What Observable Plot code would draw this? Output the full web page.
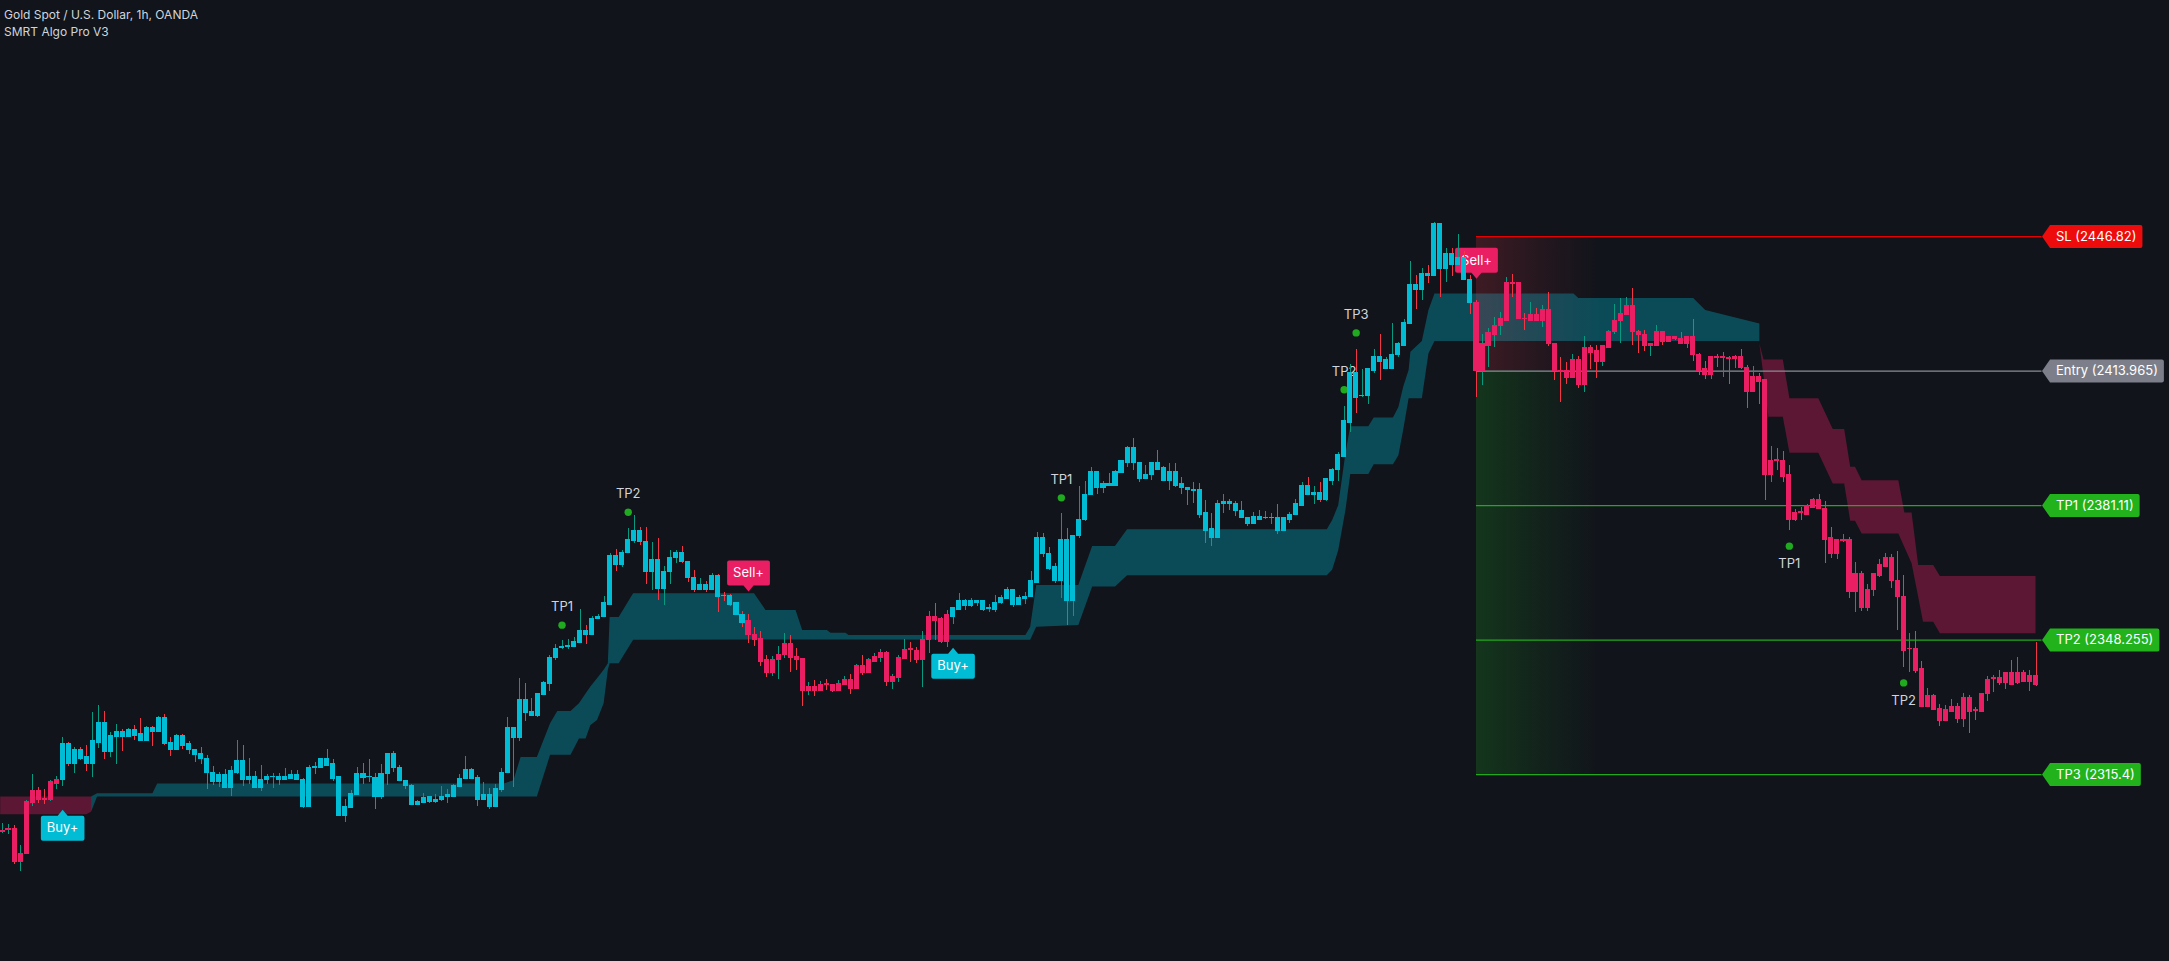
<!DOCTYPE html>
<html>
<head>
<meta charset="utf-8">
<script src="https://cdn.jsdelivr.net/npm/d3@7"></script>
<script src="https://cdn.jsdelivr.net/npm/@observablehq/plot@0.6"></script>
<style>
  html, body { margin: 0; padding: 0; background: #11141b; }
  #wrap { position: relative; width: 2169px; height: 961px; overflow: hidden; }
  #title { position: absolute; left: 4px; top: 6px; font-family: Inter, "Noto Sans", sans-serif;
           font-size: 12px; line-height: 17px; color: #d1d4dc; }
</style>
</head>
<body>
<div id="wrap">
  <div id="chart"></div>
  <div id="title"><div>Gold Spot / U.S. Dollar, 1h, OANDA</div><div>SMRT Algo Pro V3</div></div>
</div>
<script>
// XAUUSD hourly candles
const open = [
  2301.3, 2301.8, 2302.0, 2294.0, 2296.0, 2308.4, 2311.3, 2309.4, 2309.1, 2313.2,
  2314.0, 2322.8, 2318.1, 2321.3, 2319.6, 2318.1, 2323.2, 2327.9, 2321.0, 2324.7,
  2325.7, 2324.5, 2326.4, 2325.2, 2323.7, 2326.9, 2325.9, 2329.3, 2323.0, 2321.3,
  2324.9, 2322.8, 2321.5, 2320.5, 2319.3, 2315.9, 2313.5, 2315.4, 2312.2, 2315.9,
  2318.6, 2314.0, 2314.9, 2312.2, 2314.0, 2314.8, 2314.9, 2314.0, 2314.4, 2315.4,
  2314.2, 2307.6, 2317.2, 2316.9, 2319.3, 2317.9, 2314.7, 2305.4, 2307.2, 2310.5,
  2315.6, 2314.8, 2314.6, 2309.9, 2315.6, 2320.5, 2317.0, 2313.9, 2312.7, 2307.9,
  2308.4, 2309.9, 2308.7, 2309.1, 2309.9, 2310.0, 2312.3, 2314.3, 2316.6, 2314.5,
  2309.1, 2310.5, 2307.4, 2311.6, 2315.7, 2326.9, 2324.3, 2333.5, 2330.6, 2329.6,
  2334.8, 2337.5, 2343.8, 2346.4, 2346.5, 2346.5, 2347.5, 2350.4, 2349.4, 2353.4,
  2353.8, 2356.9, 2368.7, 2366.5, 2369.5, 2372.4, 2374.8, 2372.3, 2364.8, 2367.7,
  2360.7, 2364.8, 2368.3, 2369.6, 2367.4, 2363.5, 2360.4, 2361.6, 2360.4, 2364.0,
  2359.1, 2359.1, 2357.2, 2354.5, 2352.8, 2349.6, 2348.6, 2343.3, 2340.1, 2343.3,
  2344.5, 2347.2, 2344.2, 2343.7, 2335.7, 2336.9, 2335.7, 2337.5, 2337.4, 2335.9,
  2337.4, 2338.4, 2336.2, 2342.0, 2340.3, 2343.0, 2344.0, 2345.0, 2338.1, 2339.1,
  2343.7, 2346.0, 2345.7, 2343.3, 2348.2, 2354.0, 2353.3, 2347.7, 2354.0, 2355.7,
  2357.7, 2356.5, 2357.9, 2357.7, 2355.8, 2355.7, 2357.2, 2358.4, 2360.4, 2356.9,
  2358.4, 2358.7, 2362.3, 2373.3, 2369.4, 2366.0, 2362.6, 2372.6, 2357.9, 2373.6,
  2377.5, 2383.6, 2389.2, 2385.3, 2386.5, 2386.0, 2389.0, 2391.6, 2395.1, 2391.6,
  2387.5, 2388.5, 2391.4, 2390.2, 2387.0, 2389.4, 2386.3, 2385.5, 2385.0, 2384.8,
  2379.2, 2375.3, 2373.1, 2381.4, 2382.1, 2381.6, 2379.9, 2378.2, 2376.7, 2378.4,
  2378.0, 2378.0, 2378.2, 2375.0, 2377.7, 2378.7, 2381.1, 2386.0, 2383.6, 2384.3,
  2382.4, 2387.2, 2389.7, 2393.1, 2401.4, 2413.6, 2407.8, 2407.8, 2414.1, 2417.5,
  2414.6, 2414.6, 2417.8, 2420.2, 2425.4, 2434.9, 2433.9, 2437.8, 2437.3, 2449.8,
  2438.8, 2442.5, 2440.0, 2441.7, 2436.3, 2430.7, 2413.9, 2420.2, 2422.9, 2424.9,
  2426.3, 2435.5, 2435.4, 2426.8, 2426.3, 2427.6, 2426.1, 2429.0, 2420.7, 2414.0,
  2413.9, 2412.4, 2416.6, 2410.5, 2419.5, 2418.8, 2416.3, 2419.7, 2423.4, 2426.1,
  2427.6, 2429.8, 2423.6, 2422.9, 2420.0, 2420.2, 2423.4, 2421.0, 2422.2, 2421.9,
  2420.5, 2422.2, 2418.0, 2414.4, 2413.0, 2417.4, 2417.2, 2417.2, 2416.9, 2417.5,
  2414.8, 2408.8, 2412.6, 2411.7, 2388.5, 2392.2, 2392.1, 2388.5, 2377.7, 2379.5,
  2378.9, 2380.6, 2382.4, 2380.4, 2373.1, 2369.4, 2372.5, 2372.8, 2359.9, 2364.3,
  2356.0, 2360.4, 2364.0, 2366.2, 2368.2, 2362.8, 2358.9, 2346.0, 2346.2, 2341.1,
  2332.0, 2334.7, 2331.5, 2328.4, 2330.8, 2332.0, 2328.9, 2334.0, 2331.1, 2330.8,
  2335.0, 2338.8, 2338.9, 2337.7, 2340.3, 2337.7, 2340.3, 2338.1, 2339.4
];
const high = [
  2303.4, 2303.2, 2303.0, 2298.1, 2309.1, 2315.4, 2312.2, 2311.8, 2314.0, 2314.9,
  2324.5, 2323.2, 2322.0, 2322.0, 2322.5, 2330.6, 2332.3, 2330.8, 2325.7, 2327.6,
  2326.4, 2326.7, 2327.4, 2329.1, 2327.1, 2327.1, 2329.6, 2330.1, 2324.5, 2325.2,
  2325.2, 2323.5, 2321.5, 2322.0, 2320.1, 2317.4, 2315.9, 2316.6, 2317.4, 2323.7,
  2322.5, 2319.3, 2316.2, 2317.6, 2315.4, 2315.7, 2315.7, 2316.9, 2316.4, 2316.4,
  2314.4, 2317.6, 2318.4, 2319.3, 2321.5, 2319.1, 2314.9, 2309.3, 2311.5, 2317.2,
  2318.0, 2319.2, 2315.6, 2317.8, 2320.5, 2321.0, 2317.5, 2313.9, 2312.9, 2309.1,
  2310.9, 2310.0, 2310.5, 2312.5, 2311.7, 2313.1, 2315.3, 2319.8, 2317.0, 2315.2,
  2313.5, 2312.0, 2312.9, 2316.9, 2329.3, 2326.9, 2338.9, 2337.6, 2334.0, 2335.2,
  2338.1, 2344.5, 2347.2, 2348.2, 2348.4, 2349.0, 2355.7, 2351.8, 2354.0, 2354.5,
  2358.9, 2369.4, 2370.4, 2370.1, 2375.5, 2378.7, 2375.8, 2375.8, 2372.1, 2373.1,
  2366.3, 2370.1, 2370.1, 2371.1, 2367.4, 2365.3, 2363.2, 2362.6, 2364.5, 2364.3,
  2360.0, 2359.4, 2357.2, 2355.2, 2354.5, 2351.3, 2350.3, 2344.5, 2344.2, 2346.7,
  2349.9, 2349.4, 2346.2, 2343.7, 2337.9, 2338.4, 2338.1, 2338.6, 2337.4, 2338.4,
  2339.3, 2339.8, 2342.3, 2344.5, 2343.7, 2345.0, 2345.9, 2345.5, 2339.8, 2344.5,
  2348.4, 2347.7, 2346.4, 2350.3, 2355.2, 2357.2, 2353.8, 2355.5, 2356.0, 2359.6,
  2358.2, 2358.4, 2357.9, 2357.7, 2356.9, 2359.1, 2359.1, 2361.1, 2360.6, 2359.1,
  2359.9, 2365.0, 2374.5, 2374.3, 2370.9, 2367.0, 2379.2, 2375.5, 2373.8, 2385.8,
  2387.0, 2390.4, 2389.4, 2387.0, 2389.0, 2389.7, 2391.9, 2395.5, 2397.5, 2391.6,
  2390.9, 2391.4, 2394.6, 2390.7, 2391.4, 2391.4, 2388.0, 2385.5, 2386.8, 2386.5,
  2382.4, 2379.2, 2382.4, 2383.8, 2382.6, 2382.1, 2382.1, 2378.2, 2379.4, 2379.9,
  2379.7, 2379.2, 2381.4, 2378.0, 2379.4, 2382.6, 2386.8, 2388.0, 2385.8, 2386.8,
  2387.5, 2390.2, 2394.1, 2405.3, 2415.6, 2419.2, 2414.4, 2414.4, 2419.2, 2422.9,
  2417.3, 2425.6, 2421.0, 2426.6, 2440.7, 2437.3, 2439.0, 2439.8, 2450.3, 2450.0,
  2443.9, 2443.9, 2447.3, 2443.2, 2437.3, 2431.2, 2422.9, 2424.4, 2427.1, 2428.3,
  2436.8, 2437.6, 2435.4, 2428.0, 2430.7, 2429.3, 2430.0, 2433.2, 2420.7, 2417.3,
  2416.1, 2418.0, 2417.5, 2422.4, 2420.2, 2420.2, 2420.2, 2423.9, 2430.2, 2431.7,
  2432.0, 2434.2, 2423.9, 2423.9, 2420.7, 2425.1, 2423.6, 2422.4, 2422.4, 2423.4,
  2422.2, 2426.6, 2418.3, 2416.3, 2417.5, 2418.0, 2418.5, 2417.5, 2417.8, 2419.2,
  2415.3, 2415.1, 2413.4, 2411.7, 2395.5, 2395.1, 2394.3, 2390.9, 2380.2, 2380.6,
  2381.4, 2382.8, 2383.8, 2382.1, 2375.8, 2372.8, 2374.0, 2373.3, 2367.2, 2365.0,
  2361.8, 2364.3, 2367.9, 2369.4, 2369.2, 2369.9, 2364.0, 2349.9, 2350.4, 2343.0,
  2336.4, 2335.0, 2332.5, 2332.3, 2333.7, 2332.8, 2335.2, 2334.7, 2331.8, 2335.2,
  2339.4, 2339.6, 2340.8, 2340.3, 2343.3, 2344.0, 2340.8, 2340.8, 2347.7
];
const low = [
  2300.9, 2300.8, 2293.4, 2291.8, 2296.0, 2307.7, 2308.4, 2308.2, 2308.9, 2311.8,
  2312.5, 2317.4, 2315.7, 2318.8, 2316.2, 2314.7, 2321.8, 2319.1, 2319.6, 2317.9,
  2321.0, 2324.5, 2323.7, 2323.5, 2323.7, 2322.3, 2325.7, 2322.5, 2319.8, 2321.3,
  2321.5, 2320.3, 2318.4, 2317.9, 2311.8, 2312.7, 2312.2, 2312.2, 2310.0, 2315.4,
  2312.5, 2313.0, 2312.2, 2311.3, 2313.0, 2312.0, 2312.7, 2314.0, 2314.2, 2314.0,
  2307.1, 2307.4, 2315.4, 2316.9, 2317.6, 2313.7, 2305.4, 2303.7, 2307.0, 2310.5,
  2313.1, 2313.5, 2306.9, 2309.2, 2312.8, 2316.0, 2313.8, 2311.7, 2307.9, 2307.9,
  2308.4, 2308.4, 2308.4, 2308.9, 2308.3, 2309.7, 2312.3, 2314.3, 2314.3, 2307.7,
  2309.0, 2306.8, 2307.4, 2311.1, 2315.7, 2312.3, 2323.6, 2328.4, 2329.7, 2329.4,
  2334.8, 2335.8, 2343.3, 2346.0, 2346.0, 2346.4, 2347.5, 2347.3, 2349.4, 2353.4,
  2353.8, 2356.9, 2365.0, 2366.1, 2369.5, 2371.8, 2371.4, 2361.9, 2360.4, 2358.0,
  2356.8, 2361.9, 2367.0, 2367.0, 2362.4, 2359.9, 2360.4, 2359.9, 2360.4, 2355.1,
  2357.7, 2356.5, 2354.3, 2351.3, 2347.4, 2346.7, 2341.8, 2339.2, 2339.4, 2338.6,
  2343.8, 2340.3, 2340.8, 2332.0, 2334.7, 2334.5, 2335.7, 2335.9, 2335.4, 2335.9,
  2337.4, 2335.0, 2336.2, 2339.6, 2340.1, 2343.0, 2342.8, 2336.9, 2336.2, 2337.9,
  2343.7, 2342.8, 2342.5, 2336.7, 2345.0, 2348.2, 2347.4, 2346.4, 2352.1, 2355.7,
  2355.5, 2356.2, 2356.5, 2355.2, 2355.0, 2355.0, 2356.9, 2358.4, 2356.2, 2356.9,
  2356.9, 2358.7, 2362.3, 2368.4, 2365.3, 2362.1, 2358.4, 2351.8, 2354.0, 2373.1,
  2377.2, 2383.6, 2383.8, 2384.1, 2385.8, 2386.0, 2389.0, 2390.4, 2389.7, 2386.8,
  2387.5, 2387.2, 2389.9, 2387.0, 2384.8, 2385.5, 2383.8, 2381.1, 2381.6, 2378.0,
  2371.9, 2371.1, 2373.1, 2379.2, 2379.9, 2378.4, 2378.0, 2376.0, 2376.7, 2377.7,
  2377.7, 2376.5, 2374.1, 2374.8, 2376.7, 2378.7, 2380.9, 2383.6, 2381.4, 2381.9,
  2382.1, 2386.0, 2387.0, 2393.1, 2399.0, 2403.6, 2407.6, 2405.9, 2413.5, 2411.7,
  2414.6, 2414.6, 2417.3, 2420.2, 2425.4, 2429.0, 2431.2, 2435.4, 2437.3, 2432.0,
  2435.6, 2437.1, 2440.0, 2436.1, 2427.8, 2407.5, 2410.5, 2414.9, 2419.7, 2422.7,
  2426.3, 2432.0, 2426.6, 2423.9, 2426.3, 2426.1, 2424.6, 2420.0, 2411.7, 2406.3,
  2410.7, 2412.4, 2409.7, 2408.7, 2414.4, 2412.2, 2415.1, 2419.7, 2422.9, 2420.8,
  2427.6, 2420.2, 2418.3, 2418.8, 2417.5, 2420.2, 2420.2, 2421.0, 2421.4, 2420.5,
  2419.5, 2416.3, 2412.9, 2412.0, 2411.8, 2414.9, 2412.5, 2410.8, 2414.7, 2414.4,
  2404.9, 2408.8, 2405.9, 2382.4, 2386.8, 2389.7, 2386.8, 2375.0, 2377.2, 2377.5,
  2378.9, 2380.6, 2380.2, 2367.0, 2368.2, 2367.9, 2372.1, 2358.4, 2355.0, 2355.2,
  2355.2, 2358.9, 2363.5, 2366.2, 2360.9, 2350.6, 2341.6, 2340.3, 2340.1, 2332.0,
  2332.0, 2331.1, 2327.1, 2328.4, 2330.8, 2327.9, 2326.9, 2325.4, 2328.6, 2330.8,
  2333.3, 2335.5, 2337.2, 2336.2, 2337.4, 2337.4, 2338.1, 2335.7, 2336.9
];
const close = [
  2301.7, 2302.0, 2294.0, 2296.1, 2308.6, 2311.3, 2309.1, 2309.2, 2313.5, 2314.2,
  2322.8, 2318.1, 2321.3, 2319.3, 2318.1, 2323.5, 2327.9, 2321.0, 2324.9, 2325.7,
  2324.5, 2326.4, 2324.9, 2323.7, 2326.9, 2325.9, 2329.3, 2322.8, 2321.3, 2324.9,
  2322.5, 2321.3, 2320.3, 2319.1, 2315.7, 2313.5, 2315.4, 2312.2, 2316.2, 2318.6,
  2314.0, 2314.9, 2312.2, 2314.2, 2314.7, 2314.9, 2314.0, 2314.7, 2315.4, 2314.0,
  2307.6, 2317.1, 2317.1, 2319.3, 2317.6, 2314.4, 2305.4, 2307.4, 2310.7, 2315.6,
  2314.6, 2314.7, 2309.9, 2315.6, 2320.5, 2317.0, 2313.8, 2312.6, 2307.9, 2308.6,
  2309.7, 2308.7, 2309.2, 2310.0, 2310.4, 2312.5, 2314.4, 2316.6, 2314.3, 2309.1,
  2310.5, 2307.4, 2311.8, 2315.9, 2326.9, 2324.3, 2333.5, 2330.4, 2329.7, 2335.0,
  2337.7, 2344.0, 2346.2, 2346.6, 2346.8, 2347.7, 2350.4, 2349.4, 2353.5, 2354.0,
  2357.2, 2368.7, 2366.5, 2369.6, 2372.6, 2374.8, 2372.2, 2364.8, 2367.7, 2360.7,
  2365.0, 2368.4, 2369.6, 2367.3, 2363.4, 2360.4, 2361.6, 2360.4, 2364.0, 2358.9,
  2359.0, 2356.9, 2354.3, 2352.5, 2349.4, 2348.4, 2343.0, 2340.1, 2343.5, 2344.7,
  2347.2, 2344.0, 2343.5, 2335.7, 2336.9, 2335.7, 2337.4, 2337.3, 2335.9, 2337.6,
  2338.4, 2336.2, 2342.0, 2340.3, 2343.3, 2344.2, 2345.0, 2338.1, 2339.3, 2344.0,
  2345.9, 2345.9, 2343.3, 2348.4, 2354.0, 2353.0, 2347.7, 2354.3, 2356.0, 2357.7,
  2356.5, 2357.9, 2357.4, 2355.7, 2356.0, 2357.4, 2358.6, 2360.4, 2356.9, 2358.6,
  2358.9, 2362.6, 2373.3, 2369.2, 2365.7, 2362.6, 2372.6, 2357.9, 2373.8, 2377.7,
  2383.8, 2389.2, 2385.3, 2386.5, 2386.0, 2389.2, 2391.9, 2395.1, 2391.4, 2387.5,
  2388.7, 2391.4, 2389.9, 2387.0, 2389.4, 2386.0, 2385.3, 2384.8, 2384.6, 2378.9,
  2375.0, 2373.1, 2381.6, 2382.1, 2381.4, 2379.7, 2378.0, 2376.7, 2378.4, 2377.7,
  2378.2, 2378.2, 2375.0, 2378.0, 2378.9, 2381.4, 2386.0, 2383.6, 2384.3, 2382.4,
  2387.5, 2389.9, 2393.4, 2401.7, 2413.6, 2407.5, 2407.9, 2414.4, 2417.5, 2416.3,
  2416.6, 2418.0, 2420.5, 2425.6, 2434.9, 2433.9, 2437.8, 2437.3, 2449.8, 2438.8,
  2442.5, 2440.0, 2441.7, 2436.1, 2430.5, 2413.965, 2420.5, 2423.2, 2425.1, 2426.6,
  2435.4, 2435.3, 2426.6, 2426.6, 2427.6, 2426.1, 2429.0, 2420.5, 2413.9, 2413.8,
  2412.4, 2416.6, 2410.5, 2419.5, 2418.5, 2416.3, 2420.0, 2423.6, 2426.3, 2427.8,
  2429.8, 2423.4, 2422.7, 2420.0, 2420.5, 2423.4, 2421.0, 2422.2, 2421.7, 2420.5,
  2422.2, 2417.8, 2414.1, 2413.0, 2417.3, 2417.2, 2417.4, 2417.0, 2417.5, 2414.7,
  2408.8, 2412.6, 2411.4, 2388.5, 2392.1, 2392.0, 2388.2, 2377.7, 2379.4, 2379.3,
  2380.9, 2382.4, 2380.2, 2372.8, 2369.4, 2372.6, 2372.7, 2359.9, 2364.3, 2356.0,
  2360.6, 2364.3, 2366.5, 2368.2, 2362.6, 2358.7, 2345.7, 2346.2, 2340.8, 2332.0,
  2334.7, 2331.3, 2328.4, 2331.1, 2332.0, 2328.9, 2334.0, 2330.6, 2331.0, 2335.2,
  2338.6, 2339.0, 2337.7, 2340.3, 2337.4, 2340.3, 2338.1, 2339.4, 2337.4
];

// Trend signals: bar index, label, price at the label's pointer
const signalIndex = [10, 124, 158, 245];
const signalType = ["Buy+", "Sell+", "Buy+", "Sell+"];
const signalPrice = [2306.8, 2360.1, 2346.4, 2436.5];

// Take-profit hits: bar index, label, marker price, side
const tpIndex = [93, 104, 176, 223, 225, 297, 316];
const tpLabel = ["TP1", "TP2", "TP1", "TP2", "TP3", "TP1", "TP2"];
const tpPrice = [2351.9, 2379.5, 2383.0, 2409.4, 2423.3, 2371.2, 2337.8];
const tpSide = ["long", "long", "long", "long", "long", "short", "short"];

// Levels of the open short trade
const levelNames = ["SL", "Entry", "TP1", "TP2", "TP3"];
const levelValues = [2446.82, 2413.965, 2381.11, 2348.255, 2315.4];

// Trailing cloud: [bar index, lower edge, upper edge]
const cloudBearHead = [[-0.3, 2305.6, 2309.9], [14.0, 2305.6, 2309.9], [14.8, 2306.2, 2309.9]];
const cloudBull = [
  [14.8, 2306.2, 2309.9], [15.8, 2309.9, 2310.7], [25.0, 2309.9, 2310.7], [25.8, 2309.9, 2313.1],
  [83.4, 2309.9, 2313.1], [85.0, 2309.9, 2313.9], [86.2, 2309.9, 2319.6], [88.9, 2309.9, 2319.6],
  [91.1, 2320.1, 2327.8], [92.3, 2320.1, 2330.8], [94.5, 2320.1, 2330.8], [95.9, 2324.1, 2332.7],
  [97.0, 2324.1, 2335.1], [97.8, 2327.4, 2336.8], [98.9, 2328.6, 2338.8], [100.0, 2332.7, 2340.9],
  [100.7, 2340.9, 2342.5], [101.0, 2342.5, 2353.8], [102.5, 2342.5, 2353.8], [104.9, 2348.2, 2359.6],
  [125.0, 2348.3, 2359.6], [126.9, 2348.3, 2355.5], [131.9, 2348.3, 2355.5], [133.0, 2348.3, 2350.6],
  [137.1, 2348.3, 2350.6], [137.7, 2348.3, 2349.9], [140.2, 2348.3, 2349.9], [140.7, 2348.3, 2349.4],
  [170.1, 2348.2, 2349.4], [170.9, 2348.2, 2351.4], [171.9, 2351.4, 2361.6], [178.9, 2351.8, 2361.6],
  [181.2, 2361.2, 2371.1], [185.0, 2361.2, 2371.1], [187.0, 2364.0, 2375.2], [220.2, 2364.0, 2375.2],
  [221.1, 2365.4, 2377.5], [222.1, 2370.1, 2381.1], [223.3, 2379.9, 2393.8], [224.1, 2388.7, 2400.4],
  [227.1, 2388.7, 2400.4], [228.0, 2391.1, 2402.5], [231.2, 2391.1, 2402.5], [232.1, 2393.3, 2405.1],
  [232.9, 2399.5, 2410.0], [233.8, 2407.2, 2414.1], [234.1, 2407.2, 2418.6], [236.0, 2407.2, 2421.2],
  [237.1, 2418.2, 2428.8], [238.1, 2421.2, 2432.8], [261.2, 2421.2, 2432.8], [262.0, 2421.2, 2431.7],
  [281.1, 2421.2, 2431.7], [283.1, 2421.2, 2428.8], [292.1, 2421.2, 2425.5]
];
const cloudBearTail = [
  [292.1, 2420.6, 2420.6], [292.8, 2412.5, 2416.7], [293.6, 2402.7, 2416.7], [296.0, 2402.7, 2416.7],
  [297.1, 2393.9, 2407.2], [301.9, 2393.9, 2407.2], [304.3, 2386.4, 2399.7], [306.2, 2386.4, 2399.7],
  [307.2, 2377.3, 2390.5], [308.0, 2377.3, 2390.5], [309.1, 2374.2, 2387.2], [315.2, 2374.2, 2387.2],
  [316.2, 2370.9, 2379.3], [317.4, 2366.9, 2379.3], [318.5, 2358.7, 2366.5], [319.3, 2352.6, 2366.5],
  [321.0, 2352.6, 2366.5], [322.1, 2349.8, 2363.8], [338.0, 2349.8, 2363.8]
];

// ---- styling ----
const BG = "#11141b";
const UP_WICK = "#089981", DOWN_WICK = "#f23645";
const BULL = "#00bcd4", BEAR = "#e91e63";
const GREEN = "#22b31c";
const FONT = "Inter, 'Noto Sans', sans-serif";
const levelFill = ["#ee0b0b", "#7c7f8a", GREEN, GREEN, GREEN];
const levelStroke = ["#e60000", "#8a8d96", "#22a81c", "#22a81c", "#22a81c"];

const signals = signalIndex.map((i, k) => ({i, type: signalType[k], price: signalPrice[k]}));
function trendAt(i) {
  let t = "bear";
  for (const s of signals) if (s.i <= i) t = s.type === "Buy+" ? "bull" : "bear";
  return t;
}
const candles = open.map((o, i) => ({
  i, open: o, high: high[i], low: low[i], close: close[i],
  wick: close[i] >= o ? UP_WICK : DOWN_WICK,
  body: trendAt(i) === "bull" ? BULL : BEAR
}));
const tps = tpIndex.map((i, k) => ({i, label: tpLabel[k], price: tpPrice[k], side: tpSide[k]}));
const levels = levelNames.map((name, k) => ({
  name, value: levelValues[k], text: `${name} (${levelValues[k]})`,
  fill: levelFill[k], stroke: levelStroke[k]
}));
const entryIdx = signals[signals.length - 1].i;
const endIdx = open.length;
const lastIdx = open.length - 1;

// text measurement for label boxes
const mctx = document.createElement("canvas").getContext("2d");
function textWidth(s, size) { mctx.font = `${size}px Inter`; return mctx.measureText(s).width; }

// price tag pointing left, tip at the origin
function priceTag(w, h) {
  const t = 8, r = 2, hh = h / 2;
  return {draw(p) {
    p.moveTo(0, 0);
    p.lineTo(t, -hh);
    p.lineTo(t + w - r, -hh);
    p.arcTo(t + w, -hh, t + w, -hh + r, r);
    p.lineTo(t + w, hh - r);
    p.arcTo(t + w, hh, t + w - r, hh, r);
    p.lineTo(t, hh);
    p.closePath();
  }};
}
// signal bubble with a pointer; dir 1 = box below the tip, -1 = box above
function signalTag(w, h, dir) {
  const t = 6, b = 5, r = 2, hw = w / 2;
  return {draw(p) {
    const y0 = dir * t, y1 = dir * (t + h);
    p.moveTo(0, 0);
    p.lineTo(b, y0);
    p.lineTo(hw - r, y0);
    p.arcTo(hw, y0, hw, y0 + dir * r, r);
    p.lineTo(hw, y1 - dir * r);
    p.arcTo(hw, y1, hw - r, y1, r);
    p.lineTo(-hw + r, y1);
    p.arcTo(-hw, y1, -hw, y1 - dir * r, r);
    p.lineTo(-hw, y0 + dir * r);
    p.arcTo(-hw, y0, -hw + r, y0, r);
    p.lineTo(-b, y0);
    p.closePath();
  }};
}

const FS = 13;
const buys = signals.filter(s => s.type === "Buy+");
const sells = signals.filter(s => s.type === "Sell+");
const buyW = textWidth("Buy+", FS) + 12;
const sellW = textWidth("Sell+", FS) + 12;

const marks = [
  // trailing cloud
  Plot.areaY(cloudBearHead, {x: d => d[0], y1: d => d[1], y2: d => d[2], fill: BEAR, fillOpacity: 0.35}),
  Plot.areaY(cloudBull, {x: d => d[0], y1: d => d[1], y2: d => d[2], fill: BULL, fillOpacity: 0.33}),
  Plot.areaY(cloudBearTail, {x: d => d[0], y1: d => d[1], y2: d => d[2], fill: BEAR, fillOpacity: 0.35}),
  // risk / reward zones
  Plot.rect([0], {x1: entryIdx, x2: endIdx, y1: levelValues[1], y2: levelValues[0], fill: "url(#riskFade)"}),
  Plot.rect([0], {x1: entryIdx, x2: endIdx, y1: levelValues[4], y2: levelValues[1], fill: "url(#rewardFade)"}),
  // trade levels
  Plot.ruleY(levels, {y: "value", x1: entryIdx, x2: endIdx, stroke: "stroke", strokeWidth: 1.2}),
  // take-profit markers
  Plot.dot(tps, {x: "i", y: "price", r: 3.7, fill: "#1faa1f"}),
  Plot.text(tps.filter(d => d.side === "long"), {x: "i", y: "price", text: "label", dy: -18, fill: "#d1d4dc", fontSize: FS, fontFamily: FONT}),
  Plot.text(tps.filter(d => d.side === "short"), {x: "i", y: "price", text: "label", dy: 18, fill: "#d1d4dc", fontSize: FS, fontFamily: FONT}),
  // signal bubbles
  Plot.dot(buys, {x: "i", y: "price", r: 5, symbol: signalTag(buyW, 25, 1), fill: BULL}),
  Plot.text(buys, {x: "i", y: "price", text: "type", dy: 18.5, fill: "white", fontSize: FS, fontFamily: FONT}),
  Plot.dot(sells, {x: "i", y: "price", r: 5, symbol: signalTag(sellW, 25, -1), fill: BEAR}),
  Plot.text(sells, {x: "i", y: "price", text: "type", dy: -18.5, fill: "white", fontSize: FS, fontFamily: FONT}),
  // candles
  Plot.ruleX(candles, {x: "i", y1: "low", y2: "high", stroke: "wick", strokeWidth: 1, shapeRendering: "crispEdges"}),
  Plot.rect(candles, {x1: d => d.i - 0.42, x2: d => d.i + 0.42, y1: "open", y2: "close", fill: "body",
                      insetTop: -0.5, insetBottom: -0.5, shapeRendering: "crispEdges"})
];
// price tags on the right
for (const lv of levels) {
  const w = textWidth(lv.text, FS) + 12;
  marks.push(Plot.dot([lv], {x: endIdx, y: "value", r: 5, symbol: priceTag(w, 23), fill: lv.fill}));
  marks.push(Plot.text([lv], {x: endIdx, y: "value", text: "text", dx: 14, textAnchor: "start", fill: "white", fontSize: FS, fontFamily: FONT}));
}

const chart = Plot.plot({
  width: 2169,
  height: 961,
  marginTop: 0, marginBottom: 0, marginLeft: 2, marginRight: 133.5,
  x: {domain: [0, lastIdx], axis: null},
  y: {domain: [2269.74, 2504.5], axis: null},
  color: {type: "identity"},
  style: {background: BG, fontFamily: FONT, overflow: "visible"},
  marks
});

// horizontal fades for the zones
chart.insertAdjacentHTML("afterbegin", `
  <defs>
    <linearGradient id="riskFade" x1="0" x2="1" y1="0" y2="0">
      <stop offset="0" stop-color="#f23645" stop-opacity="0.2"/>
      <stop offset="0.1" stop-color="#f23645" stop-opacity="0.1"/>
      <stop offset="0.22" stop-color="#f23645" stop-opacity="0"/>
    </linearGradient>
    <linearGradient id="rewardFade" x1="0" x2="1" y1="0" y2="0">
      <stop offset="0" stop-color="#1fad20" stop-opacity="0.22"/>
      <stop offset="0.1" stop-color="#1fad20" stop-opacity="0.11"/>
      <stop offset="0.22" stop-color="#1fad20" stop-opacity="0"/>
    </linearGradient>
  </defs>`);

document.getElementById("chart").appendChild(chart);
</script>
</body>
</html>
